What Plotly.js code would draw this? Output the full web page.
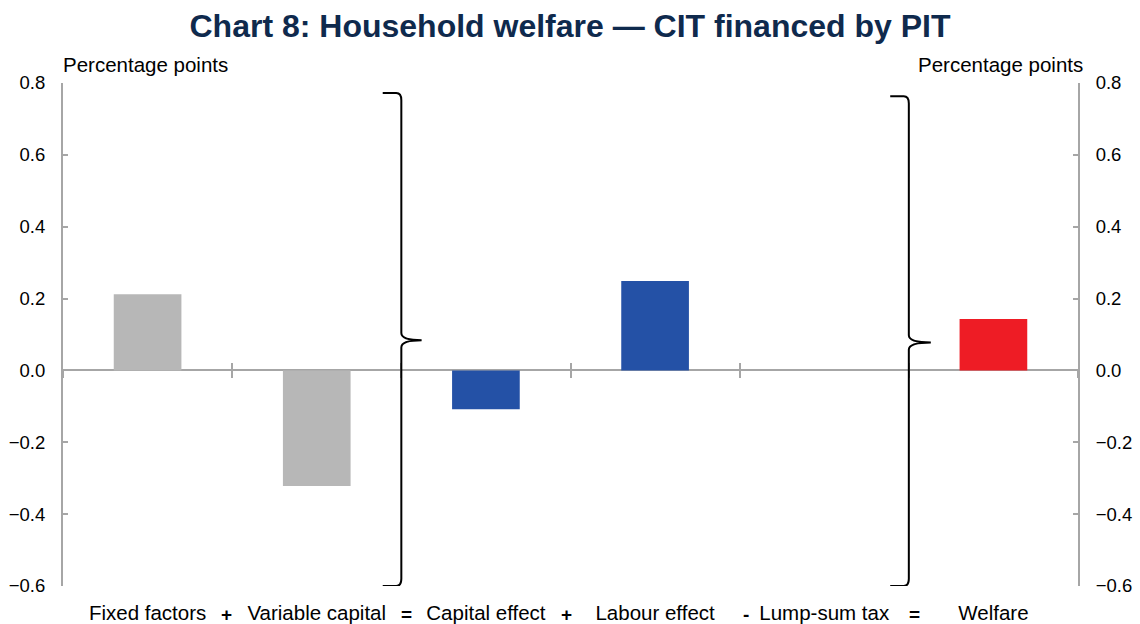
<!DOCTYPE html>
<html><head><meta charset="utf-8">
<script src="https://cdn.plot.ly/plotly-3.0.1.min.js"></script>
<style>html,body{margin:0;padding:0;background:#fff}#chart{width:1140px;height:624px}</style>
</head><body><div id="chart"></div>
<script>
const categories = ["Fixed factors", "Variable capital", "Capital effect", "Labour effect", "Lump-sum tax", "Welfare"];
const values = [0.212, -0.322, -0.108, 0.249, 0, 0.143];
const barColors = ["#b7b7b7", "#b7b7b7", "#2451a6", "#2451a6", "#2451a6", "#ee1c25"];
const operators = ["+", "=", "+", "-", "="];
const operatorShift = [-6, 5, -4, 6, 6];
const yTicks = [-0.6, -0.4, -0.2, 0.0, 0.2, 0.4, 0.6, 0.8];

const font = "Liberation Sans, Arial, sans-serif";
const gray = "#a6a6a6";

const traces = [
  {type: "bar", x: categories, y: values, marker: {color: barColors}, width: 0.4, hoverinfo: "x+y", xaxis: "x", yaxis: "y"},
  {type: "bar", x: categories, y: categories.map(() => null), xaxis: "x2", yaxis: "y", showlegend: false, hoverinfo: "skip"},
  {type: "bar", x: categories, y: categories.map(() => null), xaxis: "x3", yaxis: "y", showlegend: false, hoverinfo: "skip"},
  {type: "scatter", x: [], y: [], xaxis: "x", yaxis: "y2", showlegend: false}
];

const zeroPos = (0 - yTicks[0]) / (yTicks[yTicks.length - 1] - yTicks[0]);

function brace(xc, yTop, yMid, yBot, tip, hook) {
  const r = 0.02;
  return `M ${xc - hook} ${yTop} L ${xc - 0.03} ${yTop} Q ${xc} ${yTop} ${xc} ${yTop - r} ` +
         `L ${xc} ${yMid + r} Q ${xc} ${yMid} ${tip} ${yMid} Q ${xc} ${yMid} ${xc} ${yMid - r} ` +
         `L ${xc} ${yBot + r} Q ${xc} ${yBot} ${xc - 0.03} ${yBot} L ${xc - hook} ${yBot}`;
}

const layout = {
  width: 1140, height: 624,
  margin: {l: 63, r: 62, t: 83, b: 38},
  paper_bgcolor: "#fff", plot_bgcolor: "#fff",
  showlegend: false,
  bargap: 0.6,
  font: {family: font, size: 20, color: "#000"},
  title: {text: "<b>Chart 8: Household welfare \u2014 CIT financed by PIT</b>", x: 0.5, xanchor: "center", y: 0.958, yanchor: "middle",
          font: {family: font, size: 32, color: "#0f2a4d"}},
  xaxis: {type: "category", categoryorder: "array", categoryarray: categories, showline: false, ticks: "", showgrid: false, zeroline: false,
          ticklabelstandoff: 12, tickfont: {family: font, size: 20.5, color: "#000"}, range: [-0.5, 5.5]},
  xaxis2: {type: "category", overlaying: "x", matches: "x", anchor: "free", position: zeroPos, showline: false, ticks: "outside", ticklen: 7, tickwidth: 2,
           tickcolor: gray, tickson: "boundaries", showticklabels: false, showgrid: false, zeroline: false},
  xaxis3: {type: "category", overlaying: "x", matches: "x", anchor: "free", position: zeroPos, showline: false, ticks: "inside", ticklen: 7, tickwidth: 2,
           tickcolor: gray, tickson: "boundaries", showticklabels: false, showgrid: false, zeroline: false},
  yaxis: {range: [yTicks[0], yTicks[yTicks.length - 1]], tickvals: yTicks, tickformat: ".1f", showgrid: false,
          zeroline: true, zerolinecolor: gray, zerolinewidth: 2, showline: true, linecolor: gray, linewidth: 2,
          ticks: "inside", ticklen: 5, tickwidth: 2, tickcolor: gray, ticklabelstandoff: 12, tickfont: {family: font, size: 18.5}},
  yaxis2: {overlaying: "y", matches: "y", side: "right", anchor: "x", tickvals: yTicks, tickformat: ".1f", showgrid: false, zeroline: false,
           showline: true, linecolor: gray, linewidth: 2, ticks: "inside", ticklen: 5, tickwidth: 2, tickcolor: gray, ticklabelstandoff: 12,
           tickfont: {family: font, size: 18.5}},
  shapes: [
    {type: "path", xref: "x", yref: "y", path: brace(1.5, 0.772, 0.084, -0.6, 1.62, 0.11), line: {color: "#000", width: 2}},
    {type: "path", xref: "x", yref: "y", path: brace(4.5, 0.763, 0.078, -0.6, 4.63, 0.11), line: {color: "#000", width: 2}}
  ],
  annotations: [
    {text: "Percentage points", xref: "paper", yref: "paper", x: 0, y: 1, xanchor: "left", yanchor: "bottom", xshift: -2, yshift: 5, showarrow: false, font: {family: font, size: 20.5}},
    {text: "Percentage points", xref: "paper", yref: "paper", x: 1, y: 1, xanchor: "right", yanchor: "bottom", xshift: 7, yshift: 5, showarrow: false, font: {family: font, size: 20.5}}
  ].concat(operators.map((op, i) => ({
    text: "<b>" + op + "</b>", xref: "x", yref: "paper", x: i + 0.5, y: -0.056, yanchor: "middle", xshift: operatorShift[i], showarrow: false,
    font: {family: font, size: 19, color: "#000"}
  })))
};

Plotly.newPlot("chart", traces, layout, {displayModeBar: false, staticPlot: true});
</script>
</body></html>
